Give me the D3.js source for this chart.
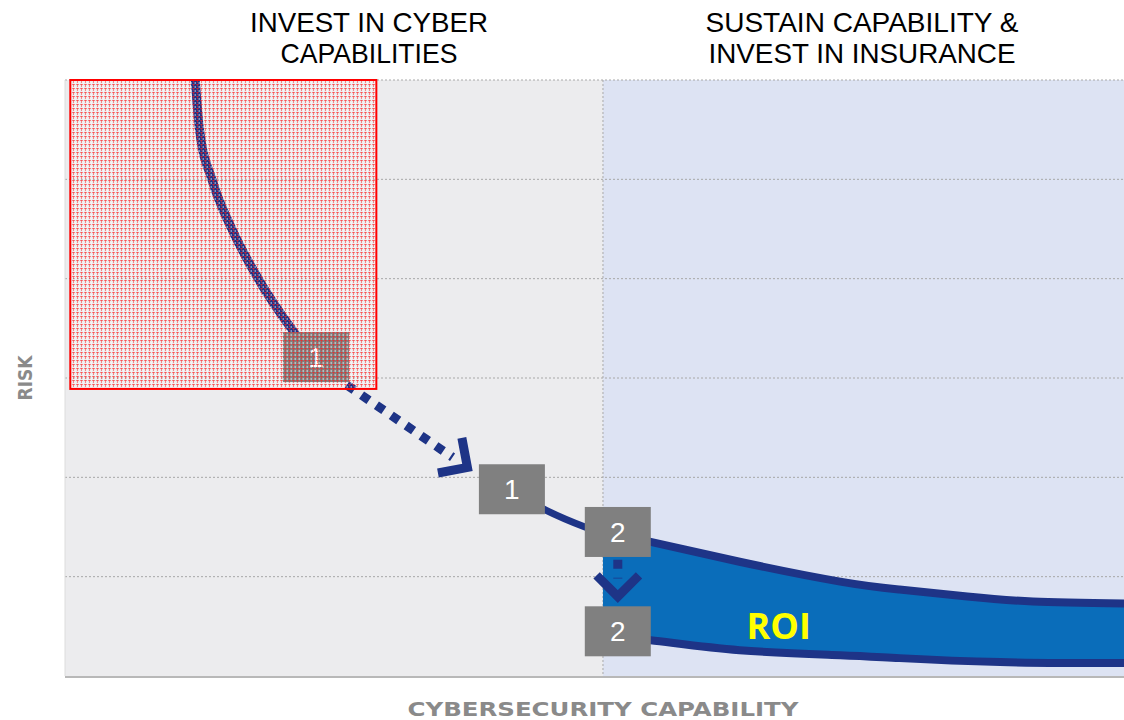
<!DOCTYPE html>
<html>
<head>
<meta charset="utf-8">
<script src="https://cdn.jsdelivr.net/npm/d3@7"></script>
<style>
  body { margin: 0; background: #fff; }
  svg { display: block; font-family: "Liberation Sans", Arial, sans-serif; }
</style>
</head>
<body>
<div id="chart"></div>
<script>
// ---- data (chart units: capability 0-10, risk 0-6) ----
const phaseTitles = [
  ['INVEST IN CYBER', 'CAPABILITIES'],
  ['SUSTAIN CAPABILITY &', 'INVEST IN INSURANCE']
]
const phaseSplit = 5.08
const riskLevels = [1, 2, 3, 4, 5, 6]

const riskCurve = [
  [1.23, 6.0], [1.27, 5.50], [1.39, 4.99], [1.58, 4.49], [1.83, 3.99],
  [2.15, 3.48], [2.35, 3.21]
]
const midCurve = [[4.22, 1.87], [4.54, 1.67], [4.91, 1.5], [5.08, 1.44]]
const upperCurve = [
  [5.08, 1.44], [5.53, 1.35], [6.37, 1.15], [7.32, 0.95], [7.88, 0.87],
  [8.52, 0.8], [9.14, 0.75], [10.0, 0.73]
]
const lowerCurve = [
  [5.08, 0.39], [5.53, 0.36], [6.37, 0.26], [7.32, 0.21], [7.88, 0.18],
  [8.83, 0.14], [10.0, 0.13]
]
const arrows = [
  {from: [2.66, 2.93], to: [3.80, 2.10]},
  {from: [5.22, 1.17], to: [5.22, 0.80]}
]
const markers = [
  {label: '1', x: 2.37, y: 3.21},
  {label: '1', x: 4.22, y: 1.88},
  {label: '2', x: 5.22, y: 1.45},
  {label: '2', x: 5.22, y: 0.45}
]
const riskZone = {x0: 0.05, x1: 2.94, y0: 2.89, y1: 6.0}

// ---- layout ----
const width = 1124, height = 720
const margin = {top: 80, right: 0, bottom: 44, left: 65}

const navy = '#1e3487'

const x = d3.scaleLinear().domain([0, 10]).range([margin.left, width - margin.right])
const y = d3.scaleLinear().domain([0, 6]).range([height - margin.bottom, margin.top])

const svg = d3.select('#chart').append('svg')
  .attr('width', width)
  .attr('height', height)

const defs = svg.append('defs')
const pat = defs.append('pattern')
  .attr('id', 'hatch')
  .attr('patternUnits', 'userSpaceOnUse')
  .attr('width', 4).attr('height', 4)
pat.append('rect').attr('x', 2.5).attr('y', 2).attr('width', 1.5).attr('height', 2)
  .attr('fill', '#fff').attr('fill-opacity', 0.45)
pat.append('path')
  .attr('d', 'M0,0.5H3 M1.5,0V3')
  .attr('stroke', '#ff1a1a')
  .attr('stroke-opacity', 0.55)
  .attr('stroke-width', 0.9)

// backgrounds
svg.append('rect')
  .attr('x', x(0)).attr('y', y(6))
  .attr('width', x(phaseSplit) - x(0)).attr('height', y(0) - y(6))
  .attr('fill', '#ececee')
svg.append('rect')
  .attr('x', x(phaseSplit)).attr('y', y(6))
  .attr('width', x(10) - x(phaseSplit)).attr('height', y(0) - y(6))
  .attr('fill', '#dde3f3')

// grid
const grid = svg.append('g')
grid.selectAll('line')
  .data(riskLevels)
  .enter().append('line')
  .attr('x1', x(0)).attr('x2', x(10))
  .attr('y1', d => y(d)).attr('y2', d => y(d))
  .attr('stroke', '#a8a8a8')
  .attr('stroke-dasharray', '2,2')
grid.append('line')
  .attr('x1', x(phaseSplit)).attr('x2', x(phaseSplit))
  .attr('y1', y(6)).attr('y2', y(0))
  .attr('stroke', '#a8a8a8')
  .attr('stroke-dasharray', '2,2')

// axis
svg.append('line')
  .attr('x1', x(0)).attr('x2', x(10))
  .attr('y1', y(0) + 1).attr('y2', y(0) + 1)
  .attr('stroke', '#b8b8b8').attr('stroke-width', 2)
svg.append('line')
  .attr('x1', x(0)).attr('x2', x(0))
  .attr('y1', y(6)).attr('y2', y(0))
  .attr('stroke', '#dcdcdc').attr('stroke-width', 1)

// ROI band
const lo = d3.scaleLinear().domain(lowerCurve.map(p => p[0])).range(lowerCurve.map(p => p[1]))
const band = upperCurve.map(d => [d[0], d[1], lo(d[0])])
svg.append('path')
  .datum(band)
  .attr('d', d3.area()
    .x(d => x(d[0]))
    .y0(d => y(d[2]))
    .y1(d => y(d[1]))
    .curve(d3.curveNatural))
  .attr('fill', '#0a6dba')

const line = d3.line().x(d => x(d[0])).y(d => y(d[1])).curve(d3.curveNatural)

;[upperCurve, lowerCurve].forEach(c => {
  svg.append('path').datum(c)
    .attr('d', line)
    .attr('fill', 'none')
    .attr('stroke', navy)
    .attr('stroke-width', 8)
})
svg.append('path').datum(midCurve)
  .attr('d', line)
  .attr('fill', 'none')
  .attr('stroke', navy)
  .attr('stroke-width', 7)
svg.append('path').datum(riskCurve)
  .attr('d', d3.line().x(d => x(d[0])).y(d => y(d[1])).curve(d3.curveMonotoneX))
  .attr('fill', 'none')
  .attr('stroke', navy)
  .attr('stroke-width', 9)

// dotted arrows
arrows.forEach(a => {
  let x1 = x(a.from[0]), y1 = y(a.from[1]), x2 = x(a.to[0]), y2 = y(a.to[1])
  let ang = Math.atan2(y2 - y1, x2 - x1)
  let back = 18
  svg.append('line')
    .attr('x1', x1).attr('y1', y1)
    .attr('x2', x2 - back * Math.cos(ang)).attr('y2', y2 - back * Math.sin(ang))
    .attr('stroke', navy)
    .attr('stroke-width', 9)
    .attr('stroke-dasharray', '9,9')
  let arm = 30
  let p1 = [x2 + arm * Math.cos(ang + Math.PI * 0.75), y2 + arm * Math.sin(ang + Math.PI * 0.75)]
  let p2 = [x2 + arm * Math.cos(ang - Math.PI * 0.75), y2 + arm * Math.sin(ang - Math.PI * 0.75)]
  svg.append('path')
    .attr('d', `M${p1}L${x2},${y2}L${p2}`)
    .attr('fill', 'none')
    .attr('stroke', navy)
    .attr('stroke-width', 9)
})

// numbered markers
const mk = svg.append('g').selectAll('g')
  .data(markers)
  .enter().append('g')
  .attr('transform', d => `translate(${x(d.x)},${y(d.y)})`)
mk.append('rect')
  .attr('x', -33).attr('y', -25)
  .attr('width', 66).attr('height', 50)
  .attr('fill', '#808080')
mk.append('text')
  .attr('text-anchor', 'middle')
  .attr('dy', '0.36em')
  .attr('fill', '#fff')
  .style('font-size', '28px')
  .text(d => d.label)

// ROI label
svg.append('text')
  .attr('x', x(6.74)).attr('y', y(0.5))
  .attr('text-anchor', 'middle')
  .attr('dy', '0.36em')
  .attr('fill', '#ffff00')
  .style('font-family', '"Open Sans", "DejaVu Sans", sans-serif')
  .style('font-weight', 'bold')
  .style('font-size', '36px')
  .text('ROI')

// red risk zone
svg.append('rect')
  .attr('x', x(riskZone.x0)).attr('y', y(riskZone.y1))
  .attr('width', x(riskZone.x1) - x(riskZone.x0))
  .attr('height', y(riskZone.y0) - y(riskZone.y1))
  .attr('fill', 'url(#hatch)')
  .attr('stroke', '#ff0000')
  .attr('stroke-width', 2)

// phase titles
const titleX = [369, 862]
const titleLen = [[238, 177], [313, 307]]
phaseTitles.forEach((lines, i) => {
  lines.forEach((l, j) => {
    svg.append('text')
      .attr('x', titleX[i])
      .attr('y', 32 + j * 31)
      .attr('text-anchor', 'middle')
      .attr('fill', '#000')
      .attr('textLength', titleLen[i][j])
      .attr('lengthAdjust', 'spacingAndGlyphs')
      .style('font-size', '28px')
      .text(l)
  })
})

// axis titles
svg.append('text')
  .attr('x', 603)
  .attr('y', 716)
  .attr('text-anchor', 'middle')
  .attr('fill', '#8a8a8a')
  .attr('textLength', 391)
  .attr('lengthAdjust', 'spacingAndGlyphs')
  .style('font-family', '"DejaVu Sans", sans-serif')
  .style('font-weight', 'bold')
  .style('font-size', '20px')
  .text('CYBERSECURITY CAPABILITY')

svg.append('text')
  .attr('transform', `translate(32,${y(3)}) rotate(-90)`)
  .attr('text-anchor', 'middle')
  .attr('fill', '#8a8a8a')
  .attr('textLength', 45)
  .attr('lengthAdjust', 'spacingAndGlyphs')
  .style('font-family', '"DejaVu Sans", sans-serif')
  .style('font-weight', 'bold')
  .style('font-size', '19px')
  .text('RISK')
</script>
</body>
</html>
